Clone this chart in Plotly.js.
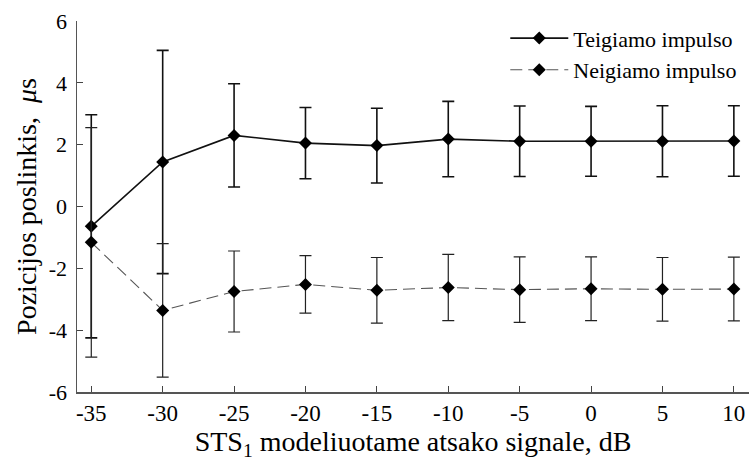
<!DOCTYPE html>
<html><head><meta charset="utf-8">
<script src="https://cdn.plot.ly/plotly-3.0.1.min.js"></script>
<style>html,body{margin:0;padding:0;background:#fff}</style>
</head><body><div id="chart" style="width:749px;height:469px"></div>
<script>
const snr = [-35, -30, -25, -20, -15, -10, -5, 0, 5, 10];
const posMean = [-0.64, 1.44, 2.30, 2.05, 1.97, 2.18, 2.11, 2.11, 2.11, 2.12];
const posErr  = [3.61, 3.61, 1.67, 1.15, 1.21, 1.22, 1.14, 1.13, 1.15, 1.14];
const negMean = [-1.16, -3.36, -2.75, -2.52, -2.71, -2.62, -2.69, -2.66, -2.68, -2.67];
const negErr  = [3.71, 2.16, 1.31, 0.93, 1.06, 1.07, 1.06, 1.03, 1.03, 1.03];
const xTicks = [-35, -30, -25, -20, -15, -10, -5, 0, 5, 10];
const yTicks = [-6, -4, -2, 0, 2, 4, 6];

const font = "Liberation Serif";
const traces = [
  {x: snr, y: posMean, name: 'Teigiamo impulso', type: 'scatter', mode: 'lines+markers',
   line: {color: '#111', width: 1.6},
   marker: {symbol: 'diamond', size: 10, color: '#000'},
   error_y: {type: 'data', array: posErr, visible: true, color: '#111', thickness: 1.6, width: 6}},
  {x: snr, y: negMean, name: 'Neigiamo impulso', type: 'scatter', mode: 'lines+markers',
   line: {color: '#555', width: 1.1, dash: '12px,6px'},
   marker: {symbol: 'diamond', size: 10, color: '#000'},
   error_y: {type: 'data', array: negErr, visible: true, color: '#222', thickness: 1.2, width: 6}}
];
const layout = {
  width: 749, height: 469,
  margin: {l: 77, r: 0, t: 21, b: 77},
  paper_bgcolor: '#fff', plot_bgcolor: '#fff',
  font: {family: font, size: 22, color: '#000'},
  showlegend: true,
  legend: {x: 0.99, xanchor: 'right', y: 1.01, yanchor: 'top', bgcolor: 'rgba(0,0,0,0)',
           font: {family: font, size: 22}, tracegroupgap: 0, itemwidth: 58},
  xaxis: {range: [-36, 11.06], tickmode: 'array', tickvals: xTicks, ticktext: xTicks.map(String),
          ticks: 'inside', ticklen: 6, tickcolor: '#444', tickwidth: 1,
          showline: true, linecolor: '#555', linewidth: 1.5, showgrid: false, zeroline: false,
          tickfont: {family: font, size: 23, color: '#000'},
          title: {text: 'STS<sub>1</sub> modeliuotame atsako signale, dB', font: {family: font, size: 28}, standoff: 5}},
  yaxis: {range: [-6, 6], tickmode: 'array', tickvals: yTicks, ticktext: yTicks.map(String),
          ticks: 'inside', ticklen: 6, tickcolor: '#444', tickwidth: 1,
          showline: true, linecolor: '#555', linewidth: 1.5, showgrid: false, zeroline: false,
          tickfont: {family: font, size: 22, color: '#000'}, ticklabelstandoff: 4,
          title: {text: 'Pozicijos poslinkis,  <i>μ</i>s', font: {family: font, size: 28}, standoff: 4}}
};
Plotly.newPlot('chart', traces, layout, {displayModeBar: false, staticPlot: true});
</script></body></html>
